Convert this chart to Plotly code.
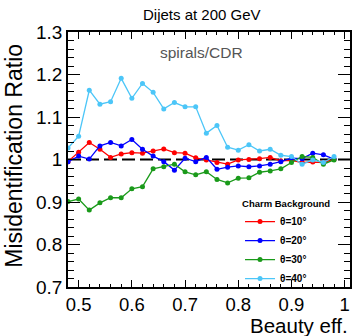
import plotly.graph_objects as go

beauty_eff = [0.48, 0.50, 0.52, 0.54, 0.56, 0.58, 0.60, 0.62, 0.64, 0.66, 0.68, 0.70, 0.72,
              0.74, 0.76, 0.78, 0.80, 0.82, 0.84, 0.86, 0.88, 0.90, 0.92, 0.94, 0.96, 0.98]

ratio_10 = [0.995, 1.017, 1.040, 1.024, 1.005, 1.013, 1.016, 1.015, 1.020, 1.025, 1.016, 1.015, 1.004,
            0.999, 0.993, 0.989, 0.999, 1.000, 1.002, 1.005, 0.997, 0.998, 0.993, 0.994, 0.993, 1.000]
ratio_20 = [0.995, 1.008, 1.001, 1.032, 1.040, 1.032, 1.047, 1.024, 1.008, 0.995, 0.975, 1.003, 0.995,
            1.005, 0.977, 0.982, 0.985, 0.983, 0.985, 0.989, 0.995, 1.003, 1.002, 1.015, 1.011, 1.001]
ratio_30 = [0.901, 0.907, 0.881, 0.898, 0.910, 0.910, 0.931, 0.936, 0.978, 0.983, 0.989, 0.971, 0.964,
            0.971, 0.953, 0.945, 0.956, 0.957, 0.970, 0.973, 0.978, 0.993, 1.007, 1.005, 0.989, 0.999]
ratio_40 = [1.027, 1.055, 1.163, 1.130, 1.136, 1.191, 1.144, 1.179, 1.158, 1.119, 1.134, 1.124, 1.124,
            1.062, 1.080, 1.029, 1.022, 1.035, 1.020, 1.024, 1.010, 1.007, 0.989, 0.999, 0.993, 1.007]

series = [
    ("θ=10°", ratio_10, "#ff0000"),
    ("θ=20°", ratio_20, "#0000ff"),
    ("θ=30°", ratio_30, "#1a9a1a"),
    ("θ=40°", ratio_40, "#4cc6f8"),
]

FONT = "Liberation Sans, Arial, sans-serif"

fig = go.Figure()
for name, vals, col in series:
    fig.add_trace(go.Scatter(
        x=beauty_eff, y=vals, name=name, mode="lines+markers",
        line=dict(color=col, width=1.3),
        marker=dict(color=col, size=5, symbol="circle"),
    ))

fig.add_shape(type="line", xref="paper", yref="y", x0=0, x1=1, y0=1, y1=1,
              line=dict(color="black", width=2, dash="13px,5px"), layer="below")

axis_common = dict(
    showline=True, linecolor="black", linewidth=1.5, mirror="ticks",
    ticks="inside", tickcolor="black", tickwidth=1.3,
    showgrid=False, zeroline=False,
)

fig.update_xaxes(range=[0.48, 1.01], dtick=0.1, tick0=0.5, ticklen=7,
                 tickfont=dict(family=FONT, size=18.5, color="black"),
                 minor=dict(dtick=0.02, tick0=0.5, ticklen=3.5, ticks="inside", tickcolor="black", tickwidth=1.2),
                 **axis_common)
fig.update_yaxes(range=[0.7, 1.3], dtick=0.1, tick0=0.7, ticklen=12,
                 tickfont=dict(family=FONT, size=19, color="black"),
                 minor=dict(dtick=0.02, tick0=0.7, ticklen=6, ticks="inside", tickcolor="black", tickwidth=1.2),
                 **axis_common)

fig.update_layout(
    width=353, height=336,
    margin=dict(l=68, r=1, t=32, b=49),
    paper_bgcolor="white", plot_bgcolor="white",
    font=dict(family=FONT, color="black"),
    showlegend=True,
    legend=dict(
        x=0.61, y=0.362, xanchor="left", yanchor="top",
        bgcolor="rgba(0,0,0,0)", itemwidth=30,
        font=dict(family=FONT, size=10, color="black", weight="bold"),
        title=dict(text="Charm Background", side="top",
                   font=dict(family=FONT, size=9.5, color="black", weight="bold")),
        tracegroupgap=0,
    ),
    annotations=[
        dict(text="Dijets at 200 GeV", xref="paper", yref="paper", x=0.475, y=1.0,
             yshift=18, xanchor="center", yanchor="middle", showarrow=False,
             font=dict(family=FONT, size=15, color="black")),
        dict(text="spirals/CDR", xref="paper", yref="paper", x=0.475, y=0.918,
             xanchor="center", yanchor="middle", showarrow=False,
             font=dict(family=FONT, size=15.5, color="#555555")),
        dict(text="Beauty eff.", xref="paper", yref="paper", x=1.0, y=0, yshift=-38.5,
             xanchor="right", yanchor="middle", showarrow=False,
             font=dict(family=FONT, size=20.5, color="black")),
        dict(text="Misidentification Ratio", xref="paper", yref="paper", x=0, xshift=-54,
             y=0.515, xanchor="center", yanchor="middle", textangle=-90, showarrow=False,
             font=dict(family=FONT, size=23, color="black")),
    ],
)

fig.write_html("out.html")
